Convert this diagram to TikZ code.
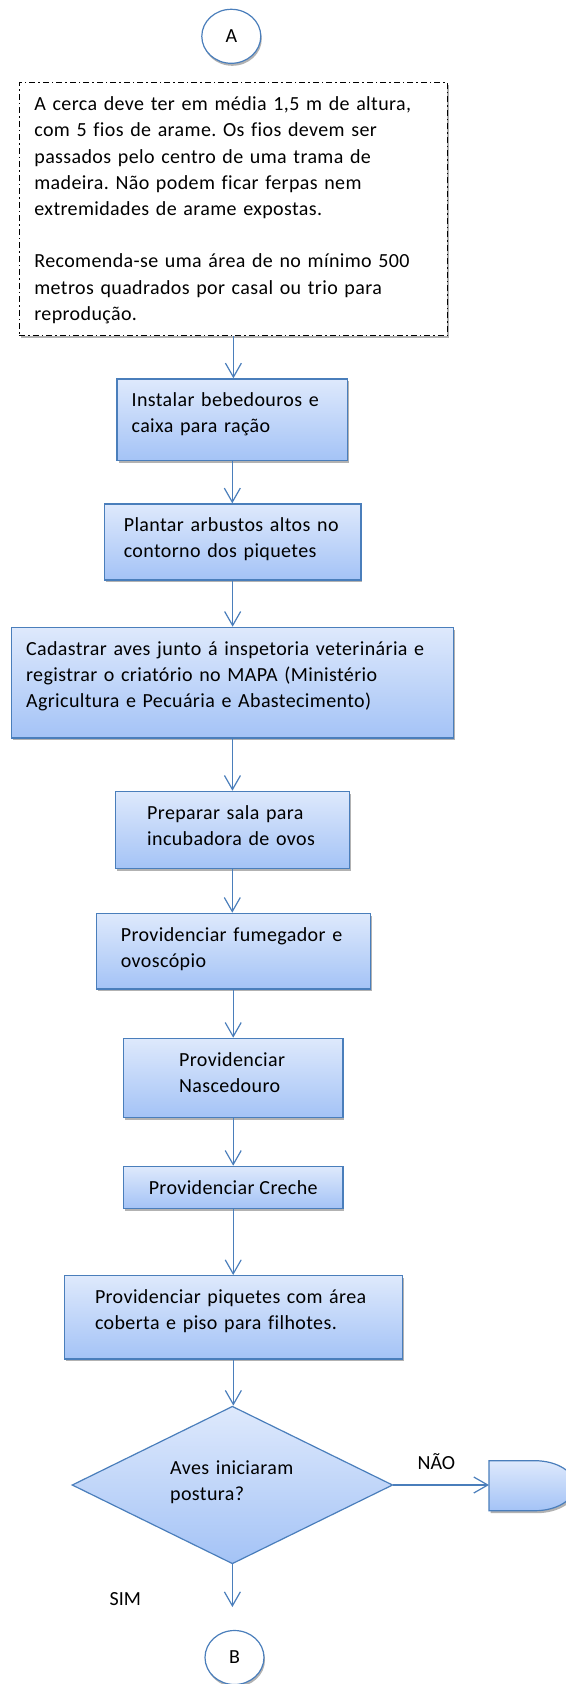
\documentclass[tikz,border=0pt]{standalone}
\usepackage{fontspec}
\setmainfont{Carlito}
\newfontfamily\boxfont[LetterSpace=1.9, Ligatures=NoCommon]{Carlito}
\usetikzlibrary{arrows.meta}
\usetikzlibrary{shapes.geometric}
\usetikzlibrary{shadows}
\definecolor{ofblue}{RGB}{74,126,187}
\definecolor{boxtop}{RGB}{222,233,252}
\definecolor{boxbot}{RGB}{164,195,246}

\tikzset{
  procbox/.style={draw=ofblue, line width=1.2pt, top color=boxtop, bottom color=boxbot,
    drop shadow={shadow xshift=1.5pt, shadow yshift=-2.5pt, opacity=.3, fill=black},
    anchor=north west, inner sep=0pt},
  notebox/.style={draw=black, line width=1.3pt, dash pattern=on 6pt off 3pt on 1.5pt off 3pt,
    fill=white, drop shadow={shadow xshift=1.5pt, shadow yshift=-2.5pt, opacity=.3, fill=black},
    anchor=north west, inner sep=0pt},
  boxtext/.style={anchor=north west, inner sep=0pt, text width=450pt, align=left,
    text height=28.4pt, font=\boxfont\frenchspacing\fontsize{20}{26}\selectfont},
  decide/.style={diamond, aspect=2, draw=ofblue, line width=1.2pt, top color=boxtop, bottom color=boxbot,
    minimum width=320.7pt, minimum height=157.6pt, inner sep=0pt},
  delayshape/.style={draw=ofblue, line width=1.2pt, top color=boxtop, bottom color=boxbot,
    drop shadow={shadow xshift=1.5pt, shadow yshift=-2.5pt, opacity=.3, fill=black}},
  offpage/.style={ellipse, draw=ofblue, line width=1.2pt, fill=white,
    minimum width=59pt, minimum height=54pt, inner sep=0pt,
    drop shadow={shadow xshift=1pt, shadow yshift=-2.5pt, opacity=.3, fill=black},
    font=\fontsize{20}{24}\selectfont},
  conn/.style={draw=ofblue, line width=1.2pt, ->},
  lbl/.style={font=\fontsize{20}{24}\selectfont, inner sep=0pt}
}

\begin{document}
\begin{tikzpicture}[x=1pt, y=-1pt, >={Straight Barb[length=14pt, width=16pt]}]
    \useasboundingbox (0,0) rectangle (565,1684);

    \node[offpage] (ca) at (231.3,36.3) {A};

    \node[notebox, minimum width=428.1pt, minimum height=253pt] (fence) at (18.7,82) {};
    \node[boxtext, font=\boxfont\frenchspacing\fontsize{20}{26.2}\selectfont] (fencetxt)
        at ([xshift=15.5pt]fence.north west)
        {A cerca deve ter em média 1,5 m de altura,\\
         com 5 fios de arame. Os fios devem ser\\
         passados pelo centro de uma trama de\\
         madeira. Não podem ficar ferpas nem\\
         extremidades de arame expostas.\\[26.2pt]
         Recomenda-se uma área de no mínimo 500\\
         metros quadrados por casal ou trio para\\
         reprodução.};

    \node[procbox, minimum width=230.6pt, minimum height=81.7pt] (drink) at (116.4,378.3) {};
    \node[boxtext] (drinktxt) at ([xshift=15pt]drink.north west)
        {Instalar bebedouros e\\caixa para ração};

    \node[procbox, minimum width=256.5pt, minimum height=76pt] (shrub) at (103.8,503.3) {};
    \node[boxtext] (shrubtxt) at ([xshift=19.8pt]shrub.north west)
        {Plantar arbustos altos no\\contorno dos piquetes};

    \node[procbox, minimum width=442.1pt, minimum height=110.6pt] (mapa) at (10.8,626.7) {};
    \node[boxtext] (mapatxt) at ([xshift=15.1pt]mapa.north west)
        {Cadastrar aves junto á inspetoria veterinária e\\
         registrar o criatório no MAPA (Ministério\\
         Agricultura e Pecuária e Abastecimento)};

    \node[procbox, minimum width=234.2pt, minimum height=77pt] (incub) at (114.6,790.7) {};
    \node[boxtext] (incubtxt) at ([xshift=32.4pt]incub.north west)
        {Preparar sala para\\incubadora de ovos};

    \node[procbox, minimum width=274.2pt, minimum height=75.6pt] (smoke) at (95.5,912.7) {};
    \node[boxtext] (smoketxt) at ([xshift=25.2pt]smoke.north west)
        {Providenciar fumegador e\\ovoscópio};

    \node[procbox, minimum width=219.4pt, minimum height=79pt] (hatch) at (122.9,1037.7) {};
    \node[boxtext] (hatchtxt) at ([xshift=56.1pt]hatch.north west)
        {Providenciar\\Nascedouro};

    \node[procbox, minimum width=219.4pt, minimum height=42pt] (creche) at (122.9,1165.7) {};
    \node[boxtext, text width=, anchor=base] (crechetxt) at ([yshift=-28.4pt]creche.north)
        {Providenciar Creche};

    \node[procbox, minimum width=337.9pt, minimum height=83.3pt] (paddock) at (63.8,1275) {};
    \node[boxtext] (paddocktxt) at ([xshift=31pt]paddock.north west)
        {Providenciar piquetes com área\\coberta e piso para filhotes.};

    \node[decide] (lay) at (232.4,1485) {};
    \node[boxtext, text height=, anchor=base west] (laytxt) at (170,1474)
        {Aves iniciaram\\postura?};

    % delay shape, cut by the right edge
    \draw[delayshape] (489,1460.7) -- (535,1460.7)
        arc[start angle=90, end angle=-90, x radius=40pt, y radius=25pt] -- (489,1510.7) -- cycle;
    \coordinate (delayin) at (489,1485);

    \node[lbl] (nao) at (436.4,1461.7) {NÃO};
    \node[lbl] (sim) at (125.3,1599.3) {SIM};
    \coordinate (simend) at (232.4,1607);

    \node[offpage] (cb) at (234.5,1657.5) {B};

    \draw[conn] (fence.south) -- (fence.south |- drink.north);
    \draw[conn] (drink.south) -- (drink.south |- shrub.north);
    \draw[conn] (shrub.south) -- (shrub.south |- mapa.north);
    \draw[conn] (mapa.south) -- (mapa.south |- incub.north);
    \draw[conn] (incub.south) -- (incub.south |- smoke.north);
    \draw[conn] (smoke.south) -- (smoke.south |- hatch.north);
    \draw[conn] (hatch.south) -- (hatch.south |- creche.north);
    \draw[conn] (creche.south) -- (creche.south |- paddock.north);
    \draw[conn] (paddock.south) -- (paddock.south |- lay.north);
    \draw[conn] (lay.east) -- (delayin);
    \draw[conn] (lay.south) -- (simend);
\end{tikzpicture}
\end{document}
